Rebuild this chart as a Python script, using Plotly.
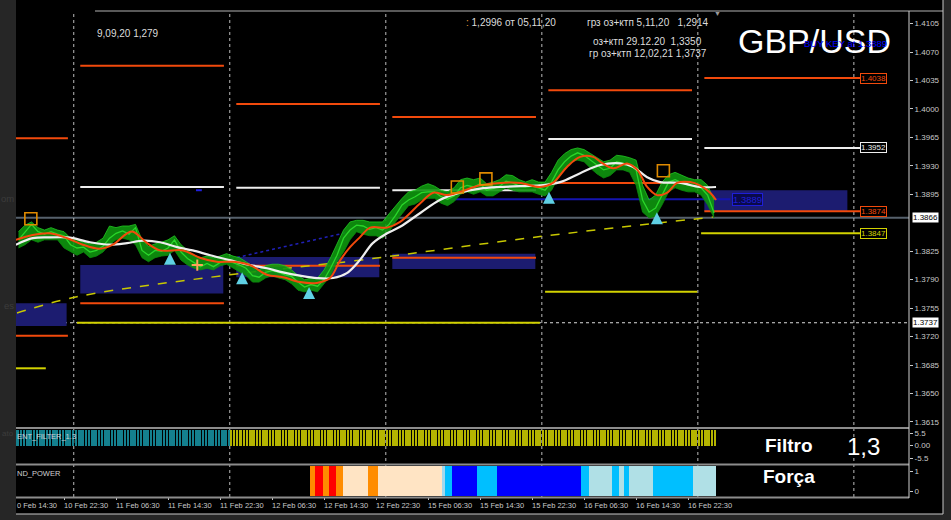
import plotly.graph_objects as go

W, H = 951, 520
PL, PR = 16, 909          # plot-area pixel edges (left/right)

def px_x(px):
    return (px - PL) / (PR - PL)

def px_y(py):
    return (H - py) / H

# ---------------- data ----------------
# x axis = trading hours since 10 Feb 14:30
x_min, x_max = 0.615, 137.98
tick_hours = [0, 8, 16, 24, 32, 40, 48, 56, 64, 72, 80, 88, 96, 104]
tick_text = ["10 Feb 14:30", "10 Feb 22:30", "11 Feb 06:30", "11 Feb 14:30", "11 Feb 22:30",
             "12 Feb 06:30", "12 Feb 14:30", "12 Feb 22:30", "15 Feb 06:30", "15 Feb 14:30",
             "15 Feb 22:30", "16 Feb 06:30", "16 Feb 14:30", "16 Feb 22:30"]
day_separators = [9.5, 33.5, 57.5, 81.5, 105.5, 129.5]

price_hours = list(range(1, 109))
price_close = [1.3839, 1.3849, 1.3858, 1.3849, 1.3846, 1.3849, 1.3846, 1.3844, 1.3833, 1.3829,
               1.3830, 1.3824, 1.3826, 1.3831, 1.3841, 1.3847, 1.3850, 1.3846, 1.3854, 1.3826,
               1.3820, 1.3826, 1.3825, 1.3829, 1.3839, 1.3824, 1.3816, 1.3811, 1.3806, 1.3810,
               1.3806, 1.3811, 1.3814, 1.3811, 1.3808, 1.3804, 1.3795, 1.3793, 1.3799, 1.3801,
               1.3799, 1.3796, 1.3794, 1.3787, 1.3781, 1.3784, 1.3782, 1.3790, 1.3804, 1.3820,
               1.3841, 1.3851, 1.3857, 1.3856, 1.3852, 1.3854, 1.3851, 1.3858, 1.3869, 1.3882,
               1.3888, 1.3892, 1.3897, 1.3898, 1.3898, 1.3892, 1.3889, 1.3893, 1.3903, 1.3906,
               1.3904, 1.3908, 1.3900, 1.3902, 1.3905, 1.3911, 1.3909, 1.3905, 1.3904, 1.3905,
               1.3903, 1.3900, 1.3910, 1.3925, 1.3935, 1.3942, 1.3946, 1.3943, 1.3937, 1.3930,
               1.3925, 1.3927, 1.3935, 1.3933, 1.3931, 1.3925, 1.3888, 1.3873, 1.3878, 1.3894,
               1.3910, 1.3913, 1.3909, 1.3906, 1.3905, 1.3903, 1.3894, 1.3872]
price_high = [1.3849, 1.3857, 1.3861, 1.3854, 1.3851, 1.3854, 1.3851, 1.3849, 1.3841, 1.3839,
              1.3836, 1.3834, 1.3836, 1.3841, 1.3856, 1.3854, 1.3856, 1.3856, 1.3858, 1.3839,
              1.3831, 1.3834, 1.3836, 1.3839, 1.3844, 1.3833, 1.3826, 1.3820, 1.3817, 1.3819,
              1.3817, 1.3819, 1.3822, 1.3819, 1.3817, 1.3812, 1.3807, 1.3802, 1.3807, 1.3809,
              1.3809, 1.3807, 1.3802, 1.3795, 1.3790, 1.3792, 1.3792, 1.3802, 1.3817, 1.3833,
              1.3851, 1.3861, 1.3863, 1.3863, 1.3861, 1.3861, 1.3861, 1.3871, 1.3881, 1.3890,
              1.3898, 1.3900, 1.3905, 1.3908, 1.3905, 1.3900, 1.3898, 1.3903, 1.3913, 1.3915,
              1.3913, 1.3915, 1.3908, 1.3910, 1.3913, 1.3919, 1.3918, 1.3913, 1.3910, 1.3913,
              1.3910, 1.3910, 1.3922, 1.3937, 1.3945, 1.3950, 1.3952, 1.3950, 1.3945, 1.3940,
              1.3935, 1.3937, 1.3943, 1.3942, 1.3940, 1.3937, 1.3906, 1.3888, 1.3894, 1.3910,
              1.3919, 1.3922, 1.3918, 1.3915, 1.3913, 1.3913, 1.3906, 1.3888]
price_low = [1.3829, 1.3833, 1.3839, 1.3836, 1.3839, 1.3839, 1.3839, 1.3829, 1.3824, 1.3820,
             1.3824, 1.3817, 1.3819, 1.3824, 1.3833, 1.3839, 1.3841, 1.3839, 1.3833, 1.3817,
             1.3812, 1.3817, 1.3819, 1.3820, 1.3826, 1.3814, 1.3808, 1.3804, 1.3802, 1.3804,
             1.3802, 1.3807, 1.3809, 1.3804, 1.3799, 1.3795, 1.3787, 1.3787, 1.3792, 1.3795,
             1.3792, 1.3790, 1.3785, 1.3777, 1.3775, 1.3777, 1.3775, 1.3785, 1.3795, 1.3812,
             1.3824, 1.3839, 1.3849, 1.3846, 1.3844, 1.3844, 1.3841, 1.3849, 1.3861, 1.3871,
             1.3881, 1.3883, 1.3888, 1.3890, 1.3890, 1.3884, 1.3881, 1.3886, 1.3895, 1.3898,
             1.3895, 1.3898, 1.3893, 1.3893, 1.3898, 1.3903, 1.3900, 1.3898, 1.3898, 1.3898,
             1.3895, 1.3893, 1.3900, 1.3915, 1.3925, 1.3935, 1.3937, 1.3935, 1.3927, 1.3920,
             1.3915, 1.3918, 1.3925, 1.3925, 1.3922, 1.3906, 1.3873, 1.3866, 1.3868, 1.3882,
             1.3898, 1.3903, 1.3900, 1.3898, 1.3898, 1.3894, 1.3882, 1.3866]

fast_ma_h = [0.6, 3.2, 5.8, 8.5, 10.9, 13.5, 15.5, 17.7, 18.6, 20.8, 22.8, 26.3, 28.9, 31.5, 34,
             36.6, 39.2, 41.7, 44.3, 46.9, 48.9, 50.5, 52, 53.5, 55.1, 57.7, 59.7, 62.8, 64.8,
             66.9, 68.9, 72, 75.1, 78.2, 81.2, 83.2, 85.4, 87.4, 89.4, 90.5, 92.5, 94.6, 96.2,
             97.7, 99.2, 100.8, 102.3, 104.3, 105.8, 107.4, 108.3]
fast_ma_p = [1.3839, 1.3845, 1.3847, 1.3841, 1.3833, 1.3828, 1.3833, 1.3847, 1.3849, 1.3835,
             1.3826, 1.3826, 1.3817, 1.3812, 1.3812, 1.3808, 1.3796, 1.3793, 1.3787, 1.3786,
             1.3792, 1.3814, 1.3830, 1.3842, 1.3854, 1.3854, 1.3861, 1.3884, 1.3897, 1.3894,
             1.3898, 1.3906, 1.3909, 1.3909, 1.3904, 1.3909, 1.3929, 1.3941, 1.3941, 1.3935,
             1.3927, 1.3933, 1.3925, 1.3904, 1.3894, 1.3897, 1.3909, 1.3910, 1.3906, 1.3897,
             1.3888]

slow_ma_h = [0.6, 3.2, 5.8, 8.5, 9.4, 12, 15.1, 17.7, 20.2, 22.8, 25.4, 27.8, 30.5, 33.5, 36.6,
             39.2, 41.7, 44.3, 46.9, 49.4, 51.5, 53.5, 55.5, 57.7, 59.7, 62.8, 65.8, 68.9, 72,
             75.1, 78.2, 81.2, 84.3, 87.4, 90.5, 93.5, 95.5, 97.7, 99.7, 102.8, 105.8, 108.3]
slow_ma_p = [1.3833, 1.3841, 1.3842, 1.3842, 1.3841, 1.3836, 1.3833, 1.3835, 1.3838, 1.3836,
             1.3830, 1.3826, 1.3820, 1.3814, 1.3808, 1.3804, 1.3799, 1.3795, 1.3792, 1.3792,
             1.3798, 1.3814, 1.3835, 1.3847, 1.3855, 1.3872, 1.3888, 1.3897, 1.3902, 1.3904,
             1.3905, 1.3906, 1.3910, 1.3921, 1.3931, 1.3933, 1.3929, 1.3916, 1.3910, 1.3909,
             1.3904, 1.3904]

trend_h = [0.77, 10, 33.5, 53.5, 81.2, 107.8]
trend_p = [1.3749, 1.3769, 1.3796, 1.3814, 1.3843, 1.3867]

blue_dot_h = [32.8, 52.0]
blue_dot_p = [1.3814, 1.3849]

# daily levels: start hour, end hour, price
orange_start = [0.615, 0.615, 10.5, 10.5, 34.5, 34.5, 58.5, 58.5, 82.5, 82.5, 106.5, 106.5]
orange_end   = [8.6, 8.6, 32.6, 32.6, 56.6, 56.6, 80.6, 80.6, 104.6, 104.6, 130.5, 130.5]
orange_price = [1.3964, 1.3721, 1.4053, 1.3761, 1.4006, 1.3807, 1.3990, 1.3817, 1.4023, 1.3909,
                1.4038, 1.3874]
white_start = [10.5, 34.5, 58.5, 82.5, 106.5]
white_end   = [32.6, 56.6, 80.6, 104.6, 130.5]
white_price = [1.3904, 1.3903, 1.3900, 1.3963, 1.3952]
yellow_start = [0.615, 10.0, 82.0, 106.0]
yellow_end   = [5.2, 81.2, 105.4, 130.5]
yellow_price = [1.3681, 1.3737, 1.3775, 1.3847]

zone_start = [0.615, 10.5, 34.5, 58.5, 106.5]
zone_end   = [8.4, 32.5, 56.5, 80.5, 128.5]
zone_low   = [1.3733, 1.3773, 1.3793, 1.3803, 1.3874]
zone_high  = [1.3761, 1.3808, 1.3818, 1.3822, 1.3900]

buy_key_start, buy_key_end, buy_key_price = 67.4, 110.5, 1.3889
small_dash_h, small_dash_p = [28.3, 29.2], [1.3900, 1.3900]

current_price = 1.3866
ref_level = 1.3737

arrow_h = [24.3, 35.4, 45.7, 82.6, 99.2]
arrow_p = [1.3823, 1.3799, 1.3781, 1.3898, 1.3873]
square_h = [2.9, 68.5, 72.9, 100.2]
square_p = [1.3865, 1.3904, 1.3914, 1.3924]
cross_h, cross_p = [28.5], [1.3808]

right_labels = ["1.4038", "1.3952", "1.3874", "1.3847"]
right_label_price = [1.4038, 1.3952, 1.3874, 1.3847]
right_label_kind = ["orange", "white", "orange", "yellow"]

# 1.3860 sits hidden under the current-price box in the original
price_ticks = [1.3615, 1.3650, 1.3685, 1.3720, 1.3755, 1.3790, 1.3825, 1.3895,
               1.3930, 1.3965, 1.4000, 1.4035, 1.4070, 1.4105]

filter_start = [0.615, 33.4]
filter_end = [33.4, 108.3]
filter_state = ["down", "up"]
filter_value = 7.0

power_start = [45.8, 46.6, 47.8, 48.8, 49.8, 50.9, 54.8, 56.3, 66.2, 66.6, 67.7, 71.5, 74.6,
               87.5, 88.8, 92.3, 93.4, 94.2, 94.9, 98.6, 104.8]
power_state = ["orange", "red", "orange", "red", "orange", "bisque", "orange", "bisque",
               "lightblue", "sky", "blue", "sky", "blue", "sky", "powder", "sky", "powder",
               "sky", "powder", "sky", "powder"]
power_last_end = 108.3

# ---------------- styles ----------------
C_ORANGE = "#f24a0c"
C_WHITE = "#eeeeee"
C_YELLOW = "#d2d200"
C_GREEN = "#2ad62a"
C_AXIS = "#c8c8c8"
FONT = "Liberation Sans, Arial, sans-serif"
kind_color = {"orange": C_ORANGE, "white": C_WHITE, "yellow": C_YELLOW}
power_colors = {"orange": "#ff8c00", "red": "#ff0000", "bisque": "#ffe4c4",
                "lightblue": "#9fd8ee", "sky": "#00bfff", "blue": "#0000ff",
                "powder": "#b0e0e6"}
filter_colors = {"down": "#14808e", "up": "#b4b400"}

fig = go.Figure()

def seg_trace(starts, ends, prices, color, width=2):
    xs, ys = [], []
    for s, e, p in zip(starts, ends, prices):
        xs += [s, e, None]
        ys += [p, p, None]
    return go.Scatter(x=xs, y=ys, mode="lines", line=dict(color=color, width=width),
                      hoverinfo="skip", xaxis="x", yaxis="y")

fig.add_trace(seg_trace(yellow_start, yellow_end, yellow_price, C_YELLOW))
fig.add_trace(seg_trace(orange_start, orange_end, orange_price, C_ORANGE))
fig.add_trace(seg_trace(white_start, white_end, white_price, C_WHITE))
fig.add_trace(go.Scatter(x=small_dash_h, y=small_dash_p, mode="lines",
                         line=dict(color="#2020e0", width=2), hoverinfo="skip"))
fig.add_trace(go.Scatter(x=trend_h, y=trend_p, mode="lines", line_shape="spline",
                         line=dict(color="#c8c800", width=1.5, dash="dash"), hoverinfo="skip"))
fig.add_trace(go.Scatter(x=blue_dot_h, y=blue_dot_p, mode="lines",
                         line=dict(color="#2020b8", width=1.5, dash="dot"), hoverinfo="skip"))
fig.add_trace(go.Scatter(x=[buy_key_start, buy_key_end], y=[buy_key_price, buy_key_price],
                         mode="lines", line=dict(color="#1414b0", width=2), hoverinfo="skip"))

# price: high-low band + close
fig.add_trace(go.Scatter(x=price_hours, y=price_low, mode="lines",
                         line=dict(width=0.8, color="#0c8c0c"), hoverinfo="skip"))
fig.add_trace(go.Scatter(x=price_hours, y=price_high, mode="lines",
                         line=dict(width=0.8, color="#22c822"),
                         fill="tonexty", fillcolor="rgba(14,150,14,0.9)", hoverinfo="skip"))
fig.add_trace(go.Scatter(x=price_hours, y=price_close, mode="lines",
                         line=dict(color=C_GREEN, width=1.3), hoverinfo="skip"))

fig.add_trace(go.Scatter(x=slow_ma_h, y=slow_ma_p, mode="lines", line_shape="spline",
                         line=dict(color=C_WHITE, width=2.2), hoverinfo="skip"))
fig.add_trace(go.Scatter(x=fast_ma_h, y=fast_ma_p, mode="lines", line_shape="spline",
                         line=dict(color=C_ORANGE, width=2), hoverinfo="skip"))
fig.add_trace(go.Scatter(x=arrow_h, y=arrow_p, mode="markers",
                         marker=dict(symbol="arrow-up", size=12, color="#5fd0e4",
                                     line=dict(width=0)), hoverinfo="skip"))
fig.add_trace(go.Scatter(x=square_h, y=square_p, mode="markers",
                         marker=dict(symbol="square-open", size=12, color="#e08a00",
                                     line=dict(width=1.6, color="#e08a00")), hoverinfo="skip"))
fig.add_trace(go.Scatter(x=cross_h, y=cross_p, mode="markers",
                         marker=dict(symbol="cross-thin-open", size=8,
                                     line=dict(width=2, color="#6a6aff")), hoverinfo="skip"))

# filter panel stripes
fx, fc = [], []
for s, e, st in zip(filter_start, filter_end, filter_state):
    k = 0
    while s + 0.5 * k + 0.25 < e:
        fx.append(s + 0.5 * k + 0.25)
        fc.append(filter_colors[st])
        k += 1
fig.add_trace(go.Bar(x=fx, y=[filter_value] * len(fx), width=0.38,
                     marker=dict(color=fc, line=dict(width=0)),
                     xaxis="x2", yaxis="y2", hoverinfo="skip"))

# power panel blocks
p_end = power_start[1:] + [power_last_end]
fig.add_trace(go.Bar(x=[(s + e) / 2 for s, e in zip(power_start, p_end)],
                     y=[1.5] * len(power_start), base=-0.25,
                     width=[e - s for s, e in zip(power_start, p_end)],
                     marker=dict(color=[power_colors[s] for s in power_state], line=dict(width=0)),
                     xaxis="x3", yaxis="y3", hoverinfo="skip"))

shapes = []
# black chart window
shapes.append(dict(type="rect", xref="paper", yref="paper", x0=px_x(16), x1=px_x(943),
                   y0=px_y(514), y1=px_y(0), fillcolor="black", line=dict(width=0), layer="below"))
for s, e, lo, hi in zip(zone_start, zone_end, zone_low, zone_high):
    shapes.append(dict(type="rect", xref="x", yref="y", x0=s, x1=e, y0=lo, y1=hi,
                       fillcolor="#1c1c70", line=dict(width=0), layer="below"))
shapes.append(dict(type="line", xref="paper", yref="y", x0=0, x1=1, y0=ref_level, y1=ref_level,
                   line=dict(color="#dddddd", width=1, dash="dot"), layer="below"))
shapes.append(dict(type="line", xref="paper", yref="y", x0=0, x1=1, y0=current_price, y1=current_price,
                   line=dict(color="#56616c", width=2), layer="below"))
for d in day_separators:
    shapes.append(dict(type="line", xref="x", yref="paper", x0=d, x1=d, y0=px_y(497), y1=px_y(12),
                       line=dict(color="#bdbdbd", width=1, dash="dot"), layer="below"))
for py in (428, 464.5, 497.5):
    shapes.append(dict(type="line", xref="paper", yref="paper", x0=0, x1=1, y0=px_y(py), y1=px_y(py),
                       line=dict(color="#8c8c8c", width=2)))
shapes.append(dict(type="line", xref="paper", yref="paper", x0=px_x(95), x1=px_x(943),
                   y0=px_y(11), y1=px_y(11), line=dict(color="#777777", width=1.5)))
shapes.append(dict(type="line", xref="paper", yref="paper", x0=1, x1=1,
                   y0=px_y(498), y1=px_y(11), line=dict(color="#d0d0d0", width=1)))
shapes.append(dict(type="line", xref="paper", yref="paper", x0=px_x(943), x1=px_x(943),
                   y0=px_y(514), y1=px_y(0), line=dict(color="#c8c8c8", width=1)))
shapes.append(dict(type="line", xref="paper", yref="paper", x0=0, x1=px_x(943),
                   y0=px_y(514), y1=px_y(514), line=dict(color="#c8c8c8", width=1)))

ann = []
def text(px, py, t, size=10, color="#dcdcdc", anchor="left", bold=False, **kw):
    ann.append(dict(xref="paper", yref="paper", x=px_x(px), y=px_y(py), text=("<b>%s</b>" % t) if bold else t,
                    showarrow=False, xanchor=anchor, yanchor="middle",
                    font=dict(family=FONT, size=size, color=color), **kw))

# x tick labels (left aligned at their ticks, MT4 style)
for h, t in zip(tick_hours, tick_text):
    if h < x_min:
        ann.append(dict(xref="paper", yref="paper", x=0, y=px_y(505), text=t[1:], showarrow=False,
                        xanchor="left", yanchor="middle", xshift=-1,
                        font=dict(family=FONT, size=7.5, color=C_AXIS)))
    else:
        ann.append(dict(xref="x3", yref="paper", x=h, y=px_y(505), text=t, showarrow=False,
                        xanchor="left", yanchor="middle", xshift=-2,
                        font=dict(family=FONT, size=7.5, color=C_AXIS)))

# level labels
for t, p, k in zip(right_labels, right_label_price, right_label_kind):
    ann.append(dict(xref="x", yref="y", x=130.5, y=p, text=t, showarrow=False, xanchor="left",
                    yanchor="middle", font=dict(family=FONT, size=8, color=kind_color[k]),
                    bgcolor="black", bordercolor=kind_color[k], borderwidth=1, borderpad=0))
ann.append(dict(xref="x", yref="y", x=buy_key_end + 0.3, y=buy_key_price, text="1.3889", showarrow=False,
                xanchor="left", yanchor="middle", font=dict(family=FONT, size=9.5, color="#1e1ed8"),
                bgcolor="#0a0a4a", bordercolor="#1e1ed8", borderwidth=1, borderpad=0))
for p in (current_price, ref_level):
    ann.append(dict(xref="paper", yref="y", x=1.003, y=p, text="%.4f" % p, showarrow=False,
                    xanchor="left", yanchor="middle", font=dict(family=FONT, size=8, color="black"),
                    bgcolor="white", borderpad=0))

text(95, 33, "9,09,20 1,279")
text(464, 23, "<span style='color:#e0a040'>:</span> 1,2996 от 05,11,20")
text(585, 23, "грз оз+ктп 5,11,20&nbsp;&nbsp; 1,2914")
text(591, 41, "оз+ктп 29.12.20&nbsp; 1,3350")
text(587, 54, "гр оз+ктп 12,02,21 1,3737")
text(717, 13, "▼", size=7, color="#9a9a9a", anchor="center")
text(736, 41, "GBP/USD", size=34, color="white")
text(802, 43, "BUY KEY at 1.3889", size=9.5, color="#0000ff")
text(763, 445, "Filtro", size=19, color="white", bold=True)
text(845, 446, "1,3", size=24, color="white")
text(761, 476, "Força", size=19, color="white", bold=True)
text(15, 436, "ENT_FILTER_1.3", size=7.5, color="#d0d0d0")
text(15, 473, "ND_POWER", size=7.5, color="#d0d0d0")
text(16, 198, "om", size=9.5, color="#3c3c3c", anchor="right")
text(16, 305, "es", size=9.5, color="#3c3c3c", anchor="right")
text(16, 433, "ato", size=8, color="#3c3c3c", anchor="right")

ax_common = dict(range=[x_min, x_max], showgrid=False, zeroline=False, showticklabels=False,
                 showline=False, fixedrange=True)

fig.update_layout(
    width=W, height=H, margin=dict(l=PL, r=W - PR, t=0, b=0),
    paper_bgcolor="#262626", plot_bgcolor="black", showlegend=False, bargap=0,
    xaxis=dict(domain=[0, 1], anchor="y", **ax_common),
    xaxis2=dict(domain=[0, 1], anchor="y2", matches="x", **ax_common),
    xaxis3=dict(domain=[0, 1], anchor="y3", matches="x", ticks="outside", ticklen=3,
                tickcolor=C_AXIS, tickvals=tick_hours, **ax_common),
    yaxis=dict(domain=[px_y(427), px_y(12)], range=[1.36088, 1.41192], side="right", anchor="x",
               tickvals=price_ticks, tickformat=".4f", ticks="outside", ticklen=3, tickcolor=C_AXIS,
               tickfont=dict(family=FONT, size=8, color=C_AXIS), showgrid=False, zeroline=False,
               fixedrange=True),
    yaxis2=dict(domain=[px_y(463), px_y(429)], range=[-7.7, 7.26], side="right", anchor="x2",
                tickvals=[5.5, 0, -5.5], ticktext=["5.5", "0.00", "-5.5"], ticks="outside", ticklen=3,
                tickcolor=C_AXIS, tickfont=dict(family=FONT, size=8, color=C_AXIS),
                showgrid=False, zeroline=False, fixedrange=True),
    yaxis3=dict(domain=[px_y(496), px_y(466)], range=[-0.25, 1.25], side="right", anchor="x3",
                tickvals=[1, 0], ticktext=["1", "0"], ticks="outside", ticklen=3,
                tickcolor=C_AXIS, tickfont=dict(family=FONT, size=8, color=C_AXIS),
                showgrid=False, zeroline=False, fixedrange=True),
    shapes=shapes, annotations=ann,
)

fig.write_html("out.html", config={"displayModeBar": False},
               post_script="document.body.style.margin='0px';")
